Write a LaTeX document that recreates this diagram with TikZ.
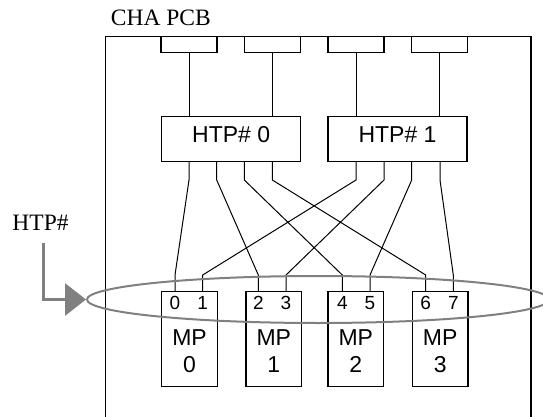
\documentclass[tikz,border=0pt]{standalone}
\usepackage{fontspec}
\setmainfont{Liberation Serif}
\newfontfamily\arialfont{Liberation Sans}
\usetikzlibrary{arrows.meta,shapes.geometric}
\definecolor{ringgray}{HTML}{808080}

\begin{document}
\begin{tikzpicture}[x=1pt,y=-1pt,
  board/.style={line width=1.1pt},
  plug/.style={draw,line width=1.1pt,minimum width=56pt,minimum height=15.7pt,inner sep=0pt},
  htpbox/.style={draw,line width=1.1pt,minimum width=139pt,minimum height=45pt,inner sep=0pt,text depth=9pt,font=\arialfont\fontsize{23}{27}\selectfont},
  mpbox/.style={draw,line width=1.1pt,minimum width=55.6pt,minimum height=95pt,inner sep=0pt},
  mptext/.style={inner sep=0pt,align=center,font=\arialfont\fontsize{23}{27}\selectfont},
  num/.style={inner sep=0pt,font=\arialfont\fontsize{19}{20}\selectfont},
  wire/.style={line width=1pt},
  ring/.style={ellipse,draw=ringgray,line width=2pt,minimum width=462pt,minimum height=47pt,inner sep=0pt},
  pointer/.style={draw=ringgray,line width=3pt,-{Triangle[length=21pt,width=32pt]}}]
\useasboundingbox (0,0) rectangle (543,417);

\node[anchor=base west,inner sep=0pt,font=\fontsize{23.5}{28}\selectfont] (cha) at (110.7,26) {CHA PCB};
\draw[board] (105.7,417) -- (105.7,36.7) -- (531,36.7) -- (531,417);

\node[plug] (c0) at (189,44.5) {};
\node[plug] (c1) at (272.5,44.5) {};
\node[plug] (c2) at (356,44.5) {};
\node[plug] (c3) at (439.7,44.5) {};

\node[htpbox] (h0) at (231.2,139.2) {HTP\# 0};
\node[htpbox] (h1) at (397.5,139.2) {HTP\# 1};
\draw[wire] (c0) -- (c0 |- h0.north);
\draw[wire] (c1) -- (c1 |- h0.north);
\draw[wire] (c2) -- (c2 |- h1.north);
\draw[wire] (c3) -- (c3 |- h1.north);

\node[mpbox] (m0) at (189.5,339.2) {};
\node[mpbox] (m1) at (273.8,339.2) {};
\node[mpbox] (m2) at (355.8,339.2) {};
\node[mpbox] (m3) at (440.2,339.2) {};
\node[mptext] (t0) at (189.5,350.7) {MP\\0};
\node[mptext] (t1) at (273.8,350.7) {MP\\1};
\node[mptext] (t2) at (355.8,350.7) {MP\\2};
\node[mptext] (t3) at (440.2,350.7) {MP\\3};

\node[num] (p0) at (175,303.3) {0};
\node[num] (p1) at (202.7,303.3) {1};
\node[num] (p2) at (258.3,303.3) {2};
\node[num] (p3) at (286,303.3) {3};
\node[num] (p4) at (342.3,303.3) {4};
\node[num] (p5) at (370,303.3) {5};
\node[num] (p6) at (425.7,303.3) {6};
\node[num] (p7) at (453.3,303.3) {7};

% bend heights of the links
\coordinate (elbow) at (0,180);
\coordinate (knee) at (0,275);
\coordinate (o0) at (189,161.7);
\coordinate (o2) at (216.7,161.7);
\coordinate (o4) at (244.3,161.7);
\coordinate (o6) at (272.3,161.7);
\coordinate (o1) at (356,161.7);
\coordinate (o3) at (384,161.7);
\coordinate (o5) at (411.7,161.7);
\coordinate (o7) at (440,161.7);
\draw[wire] (o0) -- (o0 |- elbow) -- (p0 |- knee) -- (p0 |- m0.north);
\draw[wire] (o2) -- (o2 |- elbow) -- (p2 |- knee) -- (p2 |- m1.north);
\draw[wire] (o4) -- (o4 |- elbow) -- (p4 |- knee) -- (p4 |- m2.north);
\draw[wire] (o6) -- (o6 |- elbow) -- (p6 |- knee) -- (p6 |- m3.north);
\draw[wire] (o1) -- (o1 |- elbow) -- (p1 |- knee) -- (p1 |- m0.north);
\draw[wire] (o3) -- (o3 |- elbow) -- (p3 |- knee) -- (p3 |- m1.north);
\draw[wire] (o5) -- (o5 |- elbow) -- (p5 |- knee) -- (p5 |- m2.north);
\draw[wire] (o7) -- (o7 |- elbow) -- (p7 |- knee) -- (p7 |- m3.north);

\node[ring] (ports) at (318,299.5) {};
\node[anchor=base,inner sep=0pt,font=\fontsize{23.5}{28}\selectfont] (htp) at (40.5,230) {HTP\#};
\coordinate (tail) at (43.3,242.7);
\draw[pointer] (tail) |- (ports.west);
\end{tikzpicture}
\end{document}
